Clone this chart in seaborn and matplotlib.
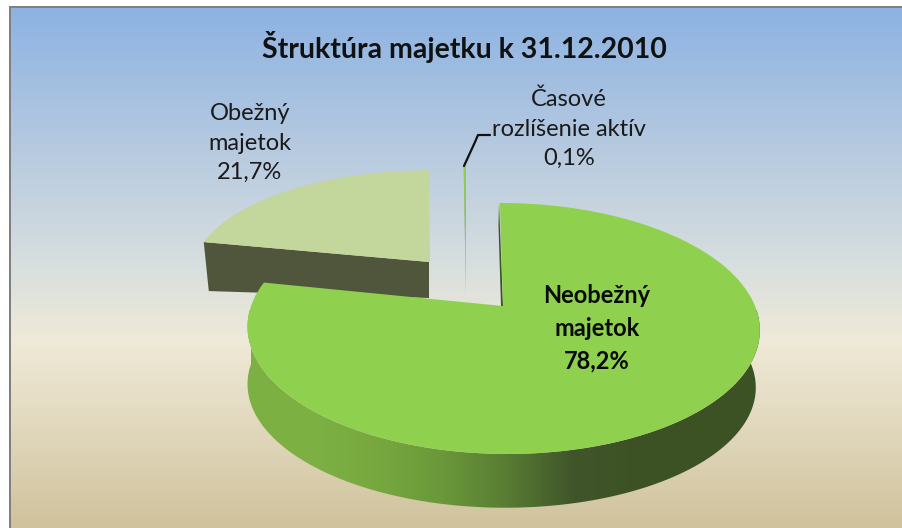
import numpy as np
import matplotlib
matplotlib.use("Agg")
import matplotlib.pyplot as plt
import seaborn as sns
from matplotlib.colors import LinearSegmentedColormap
from matplotlib.patches import Polygon, Rectangle
from matplotlib.transforms import Transform

# ---- data ----
categories = ["Neobežný\nmajetok", "Obežný\nmajetok", "Časové\nrozlíšenie aktív"]
shares = [78.2, 21.7, 0.1]
title = "Štruktúra majetku k 31.12.2010"

FONT = "Lato"
sns.set_theme(style="white")
plt.rcParams["font.family"] = [FONT, "DejaVu Sans"]


class Persp(Transform):
    """Lays the flat unit pie down on the floor, in picture pixels."""
    input_dims = output_dims = 2

    def __init__(self, cx, cy, bx, ay, k, skew=0.0):
        super().__init__()
        self.p = (cx, cy, bx, ay, k, skew)

    def transform_non_affine(self, values):
        cx, cy, bx, ay, k, skew = self.p
        values = np.asarray(values, dtype=float)
        d = 1 + k * values[:, 1]
        up = ay * values[:, 1] / d
        return np.column_stack([cx + bx * values[:, 0] / d - skew * up, cy - up])


def rim(tr, t1, t2, n=200):
    t = np.radians(np.linspace(t1, t2, n))
    return tr.transform(np.column_stack([np.cos(t), np.sin(t)]))


fig = plt.figure(figsize=(9.02, 5.28), dpi=100, facecolor="white")
ax = fig.add_axes([0, 0, 1, 1])

wedges, _ = ax.pie(shares, startangle=90, counterclock=False,
                   colors=["#8FD14F", "#C3D69B", "#A9C490"], radius=1,
                   wedgeprops={"linewidth": 0, "edgecolor": "none"})
main, other, tiny = wedges

# background
bg_cmap = LinearSegmentedColormap.from_list("bg", [
    (0.00, "#8DB3E2"), (0.25, "#B3C8E0"), (0.50, "#D8DFDE"),
    (0.64, "#EFEAD8"), (0.80, "#E2D9BE"), (1.00, "#D0C29C")])
ax.imshow(np.linspace(0, 1, 520)[:, None], cmap=bg_cmap, aspect="auto",
          extent=(11, 902, 528, 8), zorder=0)
ax.add_patch(Rectangle((9, 6), 893, 2, color="#808080", lw=0, zorder=1))
ax.add_patch(Rectangle((9, 6), 2, 522, color="#808080", lw=0, zorder=1))

# ---- Obežný slice ----
o_top = Persp(430, 262, 236, 102, 0.111)
other.set_transform(o_top + ax.transData)
other.set_zorder(4)
o_rim = rim(o_top, other.theta2, other.theta2, 1)[0]
o_apex = np.array([429, 262])
ax.add_patch(Polygon([o_apex, o_rim, o_rim + [5, 49], o_apex + [0, 36]],
                     color="#50563C", lw=0, zorder=3))

# ---- Časové rozlíšenie sliver ----
t_top = Persp(466, 296, 380, 130, 0.0)
tiny.set_transform(t_top + ax.transData)
tiny.set_zorder(4)
tiny_cmap = LinearSegmentedColormap.from_list("tiny", [
    (0.00, "#8FD14F"), (0.35, "#8FBF62"), (0.55, "#A0B59A"), (1.00, "#D3D8CE")])
im = ax.imshow(np.linspace(0, 1, 130)[:, None], cmap=tiny_cmap, aspect="auto",
               extent=(458, 472, 296, 166), zorder=5)
im.set_clip_path(tiny)

# leader line
ax.plot([464, 475, 478, 490], [166, 142, 135, 135], color="#111111", lw=1.6,
        solid_capstyle="round", zorder=6)

# ---- Neobežný slice ----
m_top = Persp(503, 306, 252, 121.5, 0.179, skew=0.03)
m_bot = Persp(501, 364, 250, 118, 0.179, skew=0.03)
main.set_transform(m_top + ax.transData)
main.set_zorder(9)

front = np.vstack([rim(m_top, -180, 0), rim(m_bot, 0, -180)])
side_cmap = sns.blend_palette(["#7CB042", "#7DB144", "#77A83F", "#6A983A",
                               "#587C33", "#40552A", "#3D5224", "#3D5224",
                               "#3D5224"], as_cmap=True)
side = ax.imshow(np.linspace(0, 1, 256)[None, :], cmap=side_cmap, aspect="auto",
                 extent=(245, 770, 520, 310), zorder=8)
side.set_clip_path(Polygon(front, transform=ax.transData))

# dark inner edge of the cut at the top of the big slice
ax.add_patch(Polygon([(499, 203), (503, 306), (501, 306), (498.5, 225)],
                     color="#3D5224", lw=0, zorder=8))

ax.set_aspect("auto")
ax.set_xlim(0, 902)
ax.set_ylim(528, 0)
ax.axis("off")

# ---- text ----
def pct(v):
    return f"{v:.1f}".replace(".", ",") + "%"


ax.text(464, 47, title, ha="center", va="center", fontsize=20.5,
        fontweight="bold", color="#111111", zorder=10)
ax.text(597, 328, f"{categories[0]}\n{pct(shares[0])}", ha="center", va="center",
        fontsize=17, fontweight="bold", color="#0A0A0A", linespacing=1.5, zorder=10)
ax.text(250, 143, f"{categories[1]}\n{pct(shares[1])}", ha="center", va="center",
        fontsize=17, color="#1A1A1A", linespacing=1.5, zorder=10)
ax.text(569, 129, f"{categories[2]}\n{pct(shares[2])}", ha="center", va="center",
        fontsize=17, color="#1A1A1A", linespacing=1.5, zorder=10)

fig.savefig("out.png", dpi=100)
